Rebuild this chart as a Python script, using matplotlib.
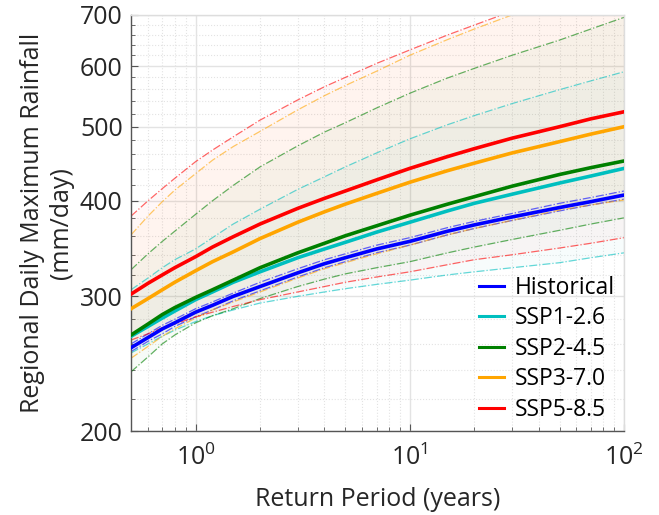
import matplotlib
matplotlib.use("Agg")
import matplotlib.pyplot as plt
from matplotlib.ticker import FixedLocator, NullFormatter, LogLocator, FixedFormatter

plt.rcParams['font.family'] = ['Open Sans', 'DejaVu Sans']

# Return periods (years)
T = [0.5, 0.6, 0.7, 0.8, 1, 1.2, 1.5, 2, 3, 4, 5, 7, 10, 15, 20, 30, 50, 70, 100]

hist    = [257, 265, 272, 277, 286, 292, 300, 309, 322, 331, 337, 346, 354, 365, 372, 381, 392, 399, 407]
hist_hi = [260, 268, 275, 280, 289, 295, 303, 313, 326, 335, 341, 350, 358, 369, 376, 385, 397, 404, 412]
hist_lo = [254, 262, 268, 274, 282, 288, 296, 305, 318, 327, 333, 342, 350, 361, 368, 377, 388, 395, 402]

ssp126    = [266, 274, 281, 287, 297, 304, 313, 323, 337, 346, 353, 364, 375, 388, 397, 408, 422, 431, 441]
ssp126_hi = [306, 317, 327, 335, 346, 358, 373, 390, 414, 430, 443, 462, 482, 503, 517, 536, 559, 574, 590]
ssp126_lo = [253, 260, 266, 271, 278, 283, 288, 294, 300, 304, 307, 311, 315, 320, 323, 327, 332, 337, 342]

ssp245    = [267, 276, 284, 290, 299, 306, 315, 327, 342, 352, 360, 371, 383, 396, 405, 418, 433, 442, 451]
ssp245_hi = [325, 341, 354, 365, 384, 400, 419, 443, 472, 492, 506, 529, 553, 579, 596, 620, 649, 671, 695]
ssp245_lo = [239, 250, 260, 267, 277, 283, 289, 298, 309, 316, 321, 327, 333, 342, 348, 356, 366, 373, 380]

ssp370    = [289, 298, 306, 313, 324, 333, 343, 357, 375, 387, 396, 409, 423, 438, 448, 462, 478, 489, 500]
ssp370_hi = [361, 382, 399, 413, 434, 452, 471, 493, 526, 549, 566, 591, 620, 650, 671, 700, 740, 765, 790]
ssp370_lo = [249, 258, 266, 272, 281, 288, 295, 304, 317, 326, 332, 341, 350, 361, 368, 377, 389, 395, 401]

ssp585    = [302, 312, 320, 327, 338, 348, 359, 373, 391, 403, 412, 426, 441, 457, 468, 483, 500, 512, 523]
ssp585_hi = [382, 400, 415, 428, 450, 466, 485, 510, 542, 564, 580, 605, 630, 659, 679, 708, 745, 768, 793]
ssp585_lo = [263, 268, 273, 276, 282, 286, 291, 297, 304, 309, 313, 318, 323, 330, 335, 340, 347, 352, 358]

labels = ['Historical', 'SSP1-2.6', 'SSP2-4.5', 'SSP3-7.0', 'SSP5-8.5']
colors = ['#0000ff', '#00bfbf', '#008000', '#ffa500', '#ff0000']
series = [(hist, hist_lo, hist_hi), (ssp126, ssp126_lo, ssp126_hi),
          (ssp245, ssp245_lo, ssp245_hi), (ssp370, ssp370_lo, ssp370_hi),
          (ssp585, ssp585_lo, ssp585_hi)]

yticks = [200, 300, 400, 500, 600, 700]

fig = plt.figure(figsize=(6.59, 5.15), dpi=100)
ax = fig.add_axes([0.1988, 0.1631, 0.7481, 0.8078])

for (mid, lo, hi), c in zip(series, colors):
    ax.fill_between(T, lo, hi, color=c, alpha=0.03, linewidth=0, zorder=1)
    ax.plot(T, hi, linestyle='-.', color=c, linewidth=0.9, alpha=0.6, zorder=2)
    ax.plot(T, lo, linestyle='-.', color=c, linewidth=0.9, alpha=0.6, zorder=2)

handles = []
for (mid, lo, hi), c, lab in zip(series, colors, labels):
    h, = ax.plot(T, mid, color=c, linewidth=2.6, label=lab, zorder=3)
    handles.append(h)

ax.set_xscale('log')
ax.set_yscale('log')
ax.set_xlim(0.5, 100)
ax.set_ylim(200, 700)

ax.yaxis.set_major_locator(FixedLocator(yticks))
ax.yaxis.set_major_formatter(FixedFormatter([str(v) for v in yticks]))
ax.yaxis.set_minor_locator(FixedLocator([v for v in range(200, 701, 20) if v not in yticks]))
ax.yaxis.set_minor_formatter(NullFormatter())
ax.xaxis.set_major_locator(LogLocator(base=10, numticks=10))
ax.xaxis.set_minor_locator(LogLocator(base=10, subs=range(2, 10), numticks=20))
ax.xaxis.set_minor_formatter(NullFormatter())

ax.grid(which='major', color='#e3e3e3', linewidth=1.0, linestyle='-', zorder=0)
ax.grid(which='minor', color='#e3e3e3', linewidth=0.8, linestyle=':', zorder=0)
ax.set_axisbelow(True)

ax.tick_params(which='both', direction='in', top=False, right=False,
               colors='#555555', labelcolor='#262626', labelsize=18)
ax.tick_params(which='major', length=5, width=0.8)
ax.tick_params(which='minor', length=3, width=0.6)
ax.tick_params(axis='x', which='major', pad=10)
ax.tick_params(axis='y', which='major', pad=6)

for s in ['left', 'bottom']:
    ax.spines[s].set_color('#555555')
    ax.spines[s].set_linewidth(1.0)
for s in ['top', 'right']:
    ax.spines[s].set_color('#dddddd')
    ax.spines[s].set_linewidth(1.0)

ax.set_xlabel('Return Period (years)', fontsize=18, color='#262626', labelpad=11)
ax.set_ylabel('Regional Daily Maximum Rainfall\n(mm/day)', fontsize=18,
              color='#262626', labelpad=4)

leg = ax.legend(handles=handles, loc='lower right', frameon=False, fontsize=16.5,
                handlelength=1.1, handletextpad=0.45, labelspacing=0.285,
                borderaxespad=0.0)
for lh in leg.get_lines():
    lh.set_linewidth(2.2)

fig.savefig('out.png', dpi=100)
